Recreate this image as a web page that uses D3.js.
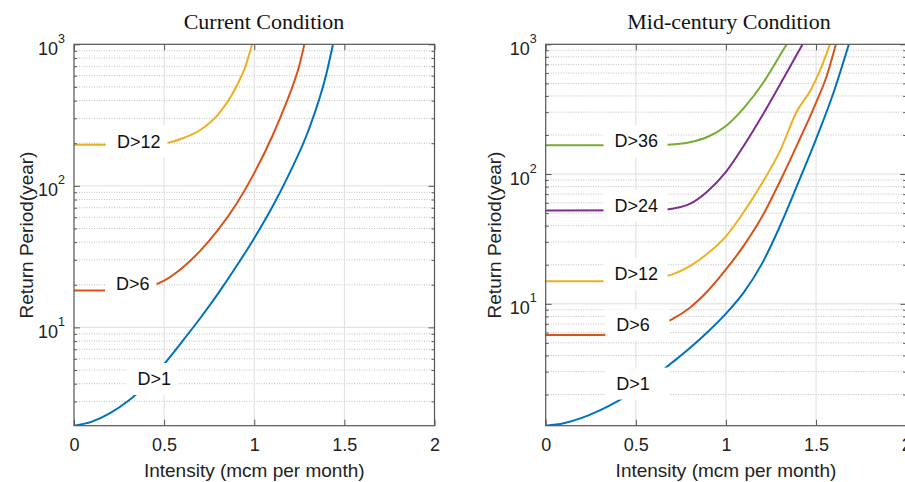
<!DOCTYPE html>
<html>
<head>
<meta charset="utf-8">
<script src="https://cdn.jsdelivr.net/npm/d3@7"></script>
<style>
  html, body { margin: 0; padding: 0; background: #fff; }
  svg { display: block; }
</style>
</head>
<body>
<div id="chart"></div>
<script>
/* ── Data ────────────────────────────────────────────────── */
const intensityTicks = [0, 0.5, 1, 1.5, 2];
const periodTicks = [10, 100, 1000];

// Current condition
const curD12X = [0, 0.3, 0.4, 0.5, 0.6, 0.7, 0.8, 0.9, 0.95, 0.988];
const curD12Y = [195, 195, 196.5, 199.5, 216, 248, 320, 501, 692, 1000];
const curD6X  = [0, 0.2, 0.3, 0.4, 0.5, 0.6, 0.7, 0.8, 0.9, 1.0, 1.1, 1.15, 1.2, 1.25, 1.278];
const curD6Y  = [18.2, 18.2, 18.4, 19.1, 21.4, 26.3, 34.7, 49.0, 74.1, 123, 224, 316, 457, 708, 1000];
const curD1X  = [0, 0.1, 0.2, 0.3, 0.4, 0.5, 0.6, 0.7, 0.8, 0.9, 1.0, 1.1, 1.2, 1.3, 1.4, 1.437];
const curD1Y  = [2.02, 2.16, 2.48, 3.02, 3.89, 5.50, 7.94, 11.6, 17.4, 26.9, 42.7, 70.8, 126, 245, 617, 1000];

// Mid-century condition
const midD36X = [0, 0.6, 0.7, 0.8, 0.9, 1.0, 1.1, 1.2, 1.3, 1.337];
const midD36Y = [167, 167, 169, 176, 194, 235, 324, 490, 822, 1000];
const midD24X = [0, 0.6, 0.7, 0.8, 0.9, 1.0, 1.1, 1.2, 1.3, 1.425];
const midD24Y = [52.3, 52.5, 54.0, 58.9, 74.1, 104, 166, 280, 490, 1000];
const midD12X = [0, 0.3, 0.5, 0.6, 0.7, 0.8, 0.9, 1.0, 1.1, 1.2, 1.3, 1.392, 1.475, 1.531, 1.577];
const midD12Y = [14.9, 14.9, 15.1, 15.7, 16.8, 19.5, 24.5, 33.1, 51.3, 85.1, 151, 302, 457, 676, 1000];
const midD6X  = [0, 0.3, 0.4, 0.5, 0.6, 0.7, 0.8, 0.9, 1.0, 1.1, 1.2, 1.3, 1.4, 1.5, 1.56, 1.61];
const midD6Y  = [5.74, 5.74, 5.82, 6.10, 6.61, 7.59, 9.33, 12.6, 18.4, 28.2, 46.8, 88.1, 174, 355, 575, 1000];
const midD1X  = [0, 0.1, 0.2, 0.3, 0.4, 0.5, 0.6, 0.7, 0.8, 0.9, 1.0, 1.1, 1.2, 1.3, 1.4, 1.5, 1.6, 1.682];
const midD1Y  = [1.15, 1.20, 1.32, 1.51, 1.78, 2.16, 2.72, 3.51, 4.57, 6.10, 8.41, 12.3, 20.4, 39.8, 85.1, 186, 437, 1000];

// Inline labels: text, left edge (intensity), vertical centre (years)
const curLabels = [
  { text: 'D>12', x: 0.238, y: 207 },
  { text: 'D>6',  x: 0.233, y: 20.3 },
  { text: 'D>1',  x: 0.352, y: 4.35 },
];
const midLabels = [
  { text: 'D>36', x: 0.382, y: 180 },
  { text: 'D>24', x: 0.382, y: 57.2 },
  { text: 'D>12', x: 0.382, y: 17.2 },
  { text: 'D>6',  x: 0.392, y: 6.89 },
  { text: 'D>1',  x: 0.392, y: 2.45 },
];

const C = { blue: '#0072BD', orange: '#D95319', yellow: '#EDB120', purple: '#7E2F8E', green: '#77AC30' };

/* ── Layout ──────────────────────────────────────────────── */
const width = 905, height = 482;
const plotTop = 44.3, plotBottom = 425.7, plotW = 360.5;
const SANS = '"Liberation Sans", Arial, sans-serif';
const SERIF = '"Liberation Serif", "Times New Roman", serif';

const svg = d3.select('#chart').append('svg')
  .attr('width', width).attr('height', height)
  .attr('viewBox', `0 0 ${width} ${height}`);

drawPanel({
  id: 'cur', left: 74, title: 'Current Condition', titleX: 264, ylabX: 33,
  yMin: 2.02,
  series: [
    { x: curD12X, y: curD12Y, color: C.yellow },
    { x: curD6X,  y: curD6Y,  color: C.orange },
    { x: curD1X,  y: curD1Y,  color: C.blue },
  ],
  labels: curLabels, boxW: null,
});

drawPanel({
  id: 'mid', left: 545.7, title: 'Mid-century Condition', titleX: 729, ylabX: 501,
  yMin: 1.15,
  series: [
    { x: midD36X, y: midD36Y, color: C.green },
    { x: midD24X, y: midD24Y, color: C.purple },
    { x: midD12X, y: midD12Y, color: C.yellow },
    { x: midD6X,  y: midD6Y,  color: C.orange },
    { x: midD1X,  y: midD1Y,  color: C.blue },
  ],
  labels: midLabels, boxW: 64,
});

function drawPanel(p) {
  const x = d3.scaleLinear().domain([0, 2]).range([p.left, p.left + plotW]);
  const y = d3.scaleLog().domain([p.yMin, 1000]).range([plotBottom, plotTop]);
  const g = svg.append('g');

  // minor decade values inside the domain
  const minors = [];
  [0, 1, 2].forEach(e => {
    for (let k = 2; k <= 9; k++) {
      const v = k * Math.pow(10, e);
      if (v > p.yMin && v < 1000) minors.push(v);
    }
  });

  // ── grid ──
  g.append('g').selectAll('line').data(minors).join('line')
    .attr('x1', x(0)).attr('x2', x(2))
    .attr('y1', d => y(d)).attr('y2', d => y(d))
    .attr('stroke', '#bdbdbd').attr('stroke-width', 1)
    .attr('stroke-dasharray', '1,1.5');
  g.append('g').selectAll('line').data(periodTicks.filter(v => v < 1000)).join('line')
    .attr('x1', x(0)).attr('x2', x(2))
    .attr('y1', d => y(d)).attr('y2', d => y(d))
    .attr('stroke', '#dedede').attr('stroke-width', 1);
  g.append('g').selectAll('line').data(intensityTicks.slice(1, -1)).join('line')
    .attr('y1', plotTop).attr('y2', plotBottom)
    .attr('x1', d => x(d)).attr('x2', d => x(d))
    .attr('stroke', '#dedede').attr('stroke-width', 1);

  // ── curves ──
  svg.append('clipPath').attr('id', `clip-${p.id}`)
    .append('rect').attr('x', x(0)).attr('y', plotTop)
    .attr('width', plotW).attr('height', plotBottom - plotTop);

  const line = d3.line()
    .x(d => x(d[0])).y(d => y(d[1]))
    .curve(d3.curveMonotoneX);

  g.append('g').attr('clip-path', `url(#clip-${p.id})`)
    .selectAll('path').data(p.series).join('path')
    .attr('d', s => line(d3.zip(s.x, s.y)))
    .attr('fill', 'none')
    .attr('stroke', s => s.color)
    .attr('stroke-width', 2);

  // ── inline labels with white background ──
  const lab = g.append('g').selectAll('g').data(p.labels).join('g');
  lab.append('rect').attr('fill', '#fff');
  lab.append('text')
    .attr('x', d => x(d.x))
    .attr('y', d => y(d.y) + 6.5)
    .attr('font-family', SANS).attr('font-size', 18).attr('fill', '#111')
    .text(d => d.text);
  lab.each(function () {
    const grp = d3.select(this);
    const bb = grp.select('text').node().getBBox();
    const w = p.boxW || bb.width + 18;
    grp.select('rect')
      .attr('x', bb.x - 11).attr('width', w)
      .attr('y', bb.y + bb.height / 2 - 16).attr('height', 32);
  });

  // ── axes (ticks inward, box) ──
  const axisStyle = sel => sel
    .call(a => a.select('.domain').remove())
    .call(a => a.selectAll('.tick line').attr('stroke', '#555'))
    .call(a => a.selectAll('.tick text')
      .attr('fill', '#222').attr('font-family', SANS).attr('font-size', 18));

  g.append('g').attr('transform', `translate(0,${plotBottom})`)
    .call(d3.axisBottom(x).tickValues(intensityTicks).tickFormat(d => String(d))
      .tickSize(-6).tickPadding(13))
    .call(axisStyle);
  g.append('g').attr('transform', `translate(0,${plotTop})`)
    .call(d3.axisTop(x).tickValues(intensityTicks).tickFormat('').tickSize(-6))
    .call(axisStyle);

  const yl = g.append('g').attr('transform', `translate(${x(0)},0)`)
    .call(d3.axisLeft(y).tickValues(periodTicks).tickSize(-6).tickPadding(9))
    .call(axisStyle);
  yl.selectAll('.tick text').each(function (d) {
    const t = d3.select(this).text(null).attr('dy', 10);
    t.append('tspan').text('10');
    t.append('tspan').attr('dy', -12).attr('font-size', 12.5).text(Math.round(Math.log10(d)));
  });
  g.append('g').attr('transform', `translate(${x(0)},0)`)
    .call(d3.axisLeft(y).tickValues(minors).tickFormat('').tickSize(-3))
    .call(axisStyle);
  g.append('g').attr('transform', `translate(${x(2)},0)`)
    .call(d3.axisRight(y).tickValues(periodTicks).tickFormat('').tickSize(-6))
    .call(axisStyle);
  g.append('g').attr('transform', `translate(${x(2)},0)`)
    .call(d3.axisRight(y).tickValues(minors).tickFormat('').tickSize(-3))
    .call(axisStyle);

  g.append('rect')
    .attr('x', x(0)).attr('y', plotTop)
    .attr('width', plotW).attr('height', plotBottom - plotTop)
    .attr('fill', 'none').attr('stroke', '#555').attr('stroke-width', 1.2);

  // ── titles ──
  g.append('text')
    .attr('x', p.titleX).attr('y', 29)
    .attr('text-anchor', 'middle')
    .attr('font-family', SERIF).attr('font-size', 22).attr('fill', '#111')
    .text(p.title);
  g.append('text')
    .attr('x', (x(0) + x(2)) / 2).attr('y', 477)
    .attr('text-anchor', 'middle')
    .attr('font-family', SANS).attr('font-size', 19).attr('fill', '#222')
    .text('Intensity (mcm per month)');
  g.append('text')
    .attr('transform', `translate(${p.ylabX},${(plotTop + plotBottom) / 2}) rotate(-90)`)
    .attr('text-anchor', 'middle')
    .attr('font-family', SANS).attr('font-size', 19).attr('fill', '#222')
    .text('Return Period(year)');
}
</script>
</body>
</html>
